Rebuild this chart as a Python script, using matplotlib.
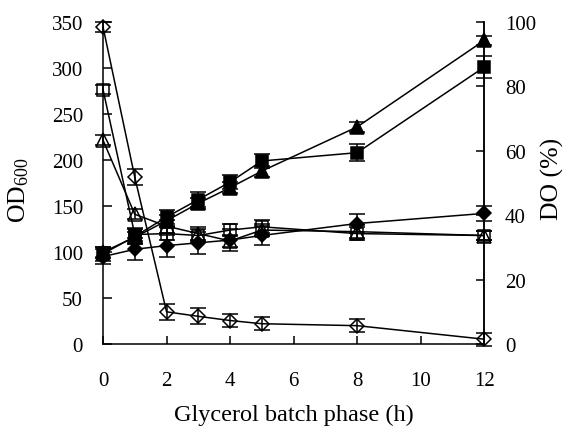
import matplotlib
matplotlib.use("Agg")
import matplotlib.pyplot as plt

plt.rcParams['font.family'] = ['Liberation Serif', 'DejaVu Serif']
plt.rcParams['mathtext.fontset'] = 'custom'
plt.rcParams['mathtext.rm'] = 'Liberation Serif'
plt.rcParams['mathtext.it'] = 'Liberation Serif:italic'

# Time (h)
t = [0, 1, 2, 3, 4, 5, 8, 12]

# OD600 (left axis) - filled symbols
od_square = [98, 117, 138, 157, 176, 199, 208, 301]
od_square_err = [8, 8, 8, 8, 8, 8, 9, 12]
od_triangle = [100, 116, 134, 153, 170, 188, 236, 330]
od_triangle_err = [6, 6, 6, 6, 6, 6, 5, 5]
od_diamond = [95, 103, 107, 110, 113, 118, 131, 142]
od_diamond_err = [8, 12, 12, 12, 12, 10, 10, 8]

# DO % (right axis) - open symbols
do_diamond = [98.5, 51.8, 10.0, 8.6, 7.3, 6.3, 5.7, 1.5]
do_diamond_err = [1.5, 2.5, 2.5, 2.5, 2.0, 2.0, 2.0, 2.0]
do_square = [79.0, 34.0, 34.3, 33.7, 35.4, 36.4, 34.3, 33.7]
do_square_err = [1.5, 2.0, 2.0, 2.0, 2.0, 2.0, 2.0, 1.5]
do_triangle = [63.3, 40.3, 36.6, 34.3, 32.0, 35.4, 34.9, 33.7]
do_triangle_err = [1.5, 1.5, 2.0, 2.0, 2.0, 2.0, 2.0, 1.5]

xticks = [0, 2, 4, 6, 8, 10, 12]
left_ticks = [0, 50, 100, 150, 200, 250, 300, 350]
right_ticks = [0, 20, 40, 60, 80, 100]

fig = plt.figure(figsize=(5.63, 4.27), dpi=100)
ax = fig.add_axes([0.183, 0.192, 0.677, 0.754])
ax2 = ax.twinx()

kw = dict(color='black', lw=1.1, capsize=5.5, elinewidth=1.1, capthick=1.1,
          markeredgewidth=1.1, clip_on=False)

ax.errorbar(t, od_square, yerr=od_square_err, marker='s', ms=9,
            mfc='black', mec='black', **kw)
ax.errorbar(t, od_triangle, yerr=od_triangle_err, marker='^', ms=9.5,
            mfc='black', mec='black', **kw)
ax.errorbar(t, od_diamond, yerr=od_diamond_err, marker='D', ms=7.5,
            mfc='black', mec='black', **kw)

ax2.errorbar(t, do_diamond, yerr=do_diamond_err, marker='D', ms=7.5,
             mfc='none', mec='black', **kw)
ax2.errorbar(t, do_square, yerr=do_square_err, marker='s', ms=9,
             mfc='none', mec='black', **kw)
ax2.errorbar(t, do_triangle, yerr=do_triangle_err, marker='^', ms=9.5,
             mfc='none', mec='black', **kw)

ax.set_xlim(0, 12)
ax.set_ylim(0, 350)
ax2.set_ylim(0, 100)
ax.set_xticks(xticks)
ax.set_yticks(left_ticks)
ax2.set_yticks(right_ticks)

for a in (ax, ax2):
    a.spines['top'].set_visible(False)
    for s in a.spines.values():
        s.set_linewidth(1.1)
ax2.spines['left'].set_visible(False)
ax2.spines['bottom'].set_visible(False)

ax.tick_params(axis='y', direction='in', length=6.5, width=1.1,
               labelsize=15, pad=14.4)
ax.tick_params(axis='x', direction='in', length=6, width=1.1,
               labelsize=15, pad=19.5)
ax2.tick_params(axis='y', direction='in', length=6, width=1.1,
                labelsize=15, pad=15)

ax.set_xlabel('Glycerol batch phase (h)', fontsize=17.5)
ax.xaxis.set_label_coords(0.5, -0.185)
fig.text(19 / 563, 1 - 190 / 427, 'OD$_{600}$', fontsize=18.5,
         rotation=90, ha='center', va='center')
fig.text(552 / 563, 1 - 179 / 427, 'DO (%)', fontsize=18.5,
         rotation=90, ha='center', va='center')

fig.savefig('out.png', dpi=100)
